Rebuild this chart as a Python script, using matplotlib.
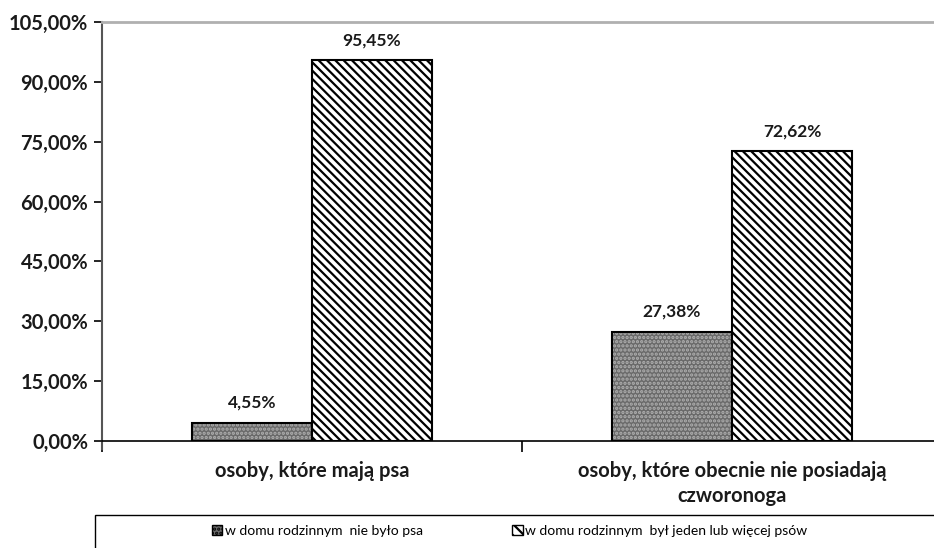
import matplotlib
matplotlib.use("Agg")
import matplotlib.pyplot as plt
from matplotlib.patches import Patch, Rectangle
import numpy as np

plt.rcParams['font.family'] = ['Lato', 'DejaVu Sans']
plt.rcParams['hatch.linewidth'] = 1.6

categories = ["osoby, które mają psa", "osoby, które obecnie nie posiadają\nczworonoga"]
series_names = ["w domu rodzinnym  nie było psa", "w domu rodzinnym  był jeden lub więcej psów"]
no_dog = [4.55, 27.38]
had_dog = [95.45, 72.62]
yticks = [0, 15, 30, 45, 60, 75, 90, 105]


def pl(v):
    return f"{v:.2f}".replace(".", ",") + "%"


fig = plt.figure(figsize=(9.34, 5.48), dpi=100)
ax = fig.add_axes([102 / 934, 107 / 548, 840 / 934, 419 / 548])

x = np.arange(len(categories))
w = 0.2857

# szara krata - osobno wypełnienie i obramowanie
ax.bar(x - w / 2, no_dog, w, color="#6a6a6a", hatch="....", edgecolor="#b0b0b0", linewidth=0, zorder=2)
ax.bar(x - w / 2, no_dog, w, fill=False, edgecolor="black", linewidth=1.5, zorder=3)
ax.bar(x + w / 2, had_dog, w, color="white", hatch="\\\\\\\\", edgecolor="black", linewidth=1.5, zorder=3)

for xi, v in zip(x - w / 2, no_dog):
    ax.text(xi, v + 3, pl(v), ha="center", va="bottom", fontsize=12.5, fontweight="bold", color="#1a1a1a")
for xi, v in zip(x + w / 2, had_dog):
    ax.text(xi, v + 3, pl(v), ha="center", va="bottom", fontsize=12.5, fontweight="bold", color="#1a1a1a")

ax.set_xlim(-0.5, 1.5)
ax.set_ylim(0, 105)
ax.set_yticks(yticks)
ax.set_yticklabels([pl(t) for t in yticks], fontsize=14.5, fontweight="bold", color="#1a1a1a")
ax.set_xticks([-0.5, 0.5, 1.5])
ax.set_xticklabels([])
ax.tick_params(axis="x", length=8, width=1.2, direction="out")
ax.tick_params(axis="y", length=6, width=1.2, direction="out", pad=4)
for xi, c in zip(x, categories):
    ax.text(xi, -5, c, ha="center", va="top", fontsize=14.5, fontweight="bold", color="#1a1a1a",
            linespacing=1.3)

ax.spines["right"].set_visible(False)
ax.spines["top"].set_color("#b0b0b0")
ax.spines["top"].set_linewidth(2)
ax.spines["left"].set_color("#555555")
ax.spines["left"].set_linewidth(1.5)
ax.spines["left"].set_bounds(-2, 105)
ax.spines["bottom"].set_linewidth(1.2)

# ramka legendy
fig.patches.append(Rectangle((95 / 934, -0.1), 0.95, (548 - 515) / 548 + 0.1,
                             transform=fig.transFigure, fill=False, edgecolor="black", linewidth=1))
handles = [Patch(facecolor="#6a6a6a", edgecolor="black", hatch="...."),
           Patch(facecolor="white", edgecolor="black", hatch="\\\\\\")]
fig.legend(handles, series_names, ncol=2, loc="center left", bbox_to_anchor=(212 / 934, 1 - 531 / 548),
           frameon=False, fontsize=10, handlelength=0.75, handleheight=0.75, handletextpad=0.2,
           columnspacing=6.4, borderpad=0, borderaxespad=0)

fig.savefig("out.png", dpi=100)
